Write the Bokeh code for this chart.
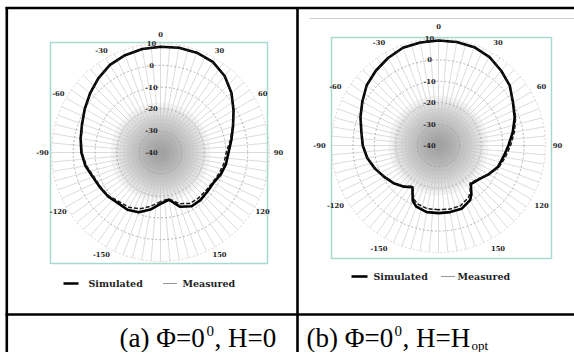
import numpy as np
from bokeh.plotting import figure
from bokeh.models import Range1d
from bokeh.embed import file_html
from bokeh.resources import INLINE
from bokeh.core.properties import value

# ---------------- data (dB vs angle in degrees) ----------------
ANG_A = [-180, -170, -160, -150, -140, -130, -120, -110, -100, -90, -80, -70, -60, -50, -40, -30,
         -20, -10, 0, 10, 20, 30, 40, 50, 60, 70, 80, 90, 100, 110, 120, 130, 140, 150, 160, 170, 180]
SIM_A = [-16.4, -13.4, -10.8, -9.7, -9.7, -8.6, -8.0, -7.0, -5.0, -3.7, -2.8, -1.7, 0.1, 2.2, 4.4, 6.4,
         7.5, 8.2, 8.5, 8.8, 8.7, 8.0, 5.8, 2.5, -1.3, -4.6, -7.0, -8.8, -9.5, -10.6, -12.0, -12.0, -11.5, -11.5, -13.5, -18.0, -16.4]
MEAS_A = [-17.5, -15.0, -12.5, -11.0, -10.5, -9.0, -8.3, -7.5, -5.5, -4.0, -3.0, -1.9, 0.0, 2.0, 4.3, 6.3,
          7.4, 8.1, 8.4, 8.7, 8.6, 7.9, 5.7, 2.4, -1.4, -4.8, -7.5, -9.8, -10.5, -11.5, -12.5, -12.8, -12.8, -13.0, -15.0, -18.5, -17.5]

ANG_B = [-180, -170, -160, -155, -148, -140, -130, -120, -110, -100, -90, -80, -70, -60, -50, -40, -30, -20, -10,
         0, 10, 20, 30, 40, 50, 60, 70, 80, 90, 100, 110, 120, 130, 140, 146, 150, 160, 170, 180]
SIM_B = [-8.4, -8.4, -9.6, -11.5, -17.0, -14.9, -12.6, -10.7, -8.4, -6.2, -4.6, -3.4, -1.2, 1.1, 3.8, 5.6, 7.2, 8.6, 8.9,
         9.1, 9.1, 8.9, 7.7, 5.6, 3.5, 0.2, -2.1, -4.8, -7.3, -9.2, -10.5, -13.0, -15.4, -16.5, -12.5, -10.5, -8.5, -8.4, -8.4]
MEAS_B = [-10.0, -10.0, -11.0, -12.5, -17.5, -15.2, -12.8, -10.9, -8.6, -6.3, -4.7, -3.5, -1.3, 1.0, 3.7, 5.5, 7.1, 8.5, 8.8,
          9.0, 9.0, 8.8, 7.6, 5.5, 3.4, 0.3, -1.6, -4.0, -6.3, -8.3, -10.0, -13.2, -15.8, -17.0, -13.5, -12.0, -10.0, -9.8, -10.0]

R_MIN, R_MAX = -40, 10
RING_DB = [-30, -20, -10, 0, 10]
RADIAL_TICKS = [10, 0, -10, -20, -30, -40]
ANGLE_TICKS = [0, 30, 60, 90, 120, 150, -30, -60, -90, -120, -150]
SERIES = ["Simulated", "Measured"]
CAP_A = ["(a) \u03a6=0", "0", ", H=0"]
CAP_B = ["(b) \u03a6=0", "0", ", H=H", "opt"]

# ---------------- figure (data coordinates = page pixels) ----------------
p = figure(width=574, height=352, x_range=Range1d(0, 574), y_range=Range1d(352, 0),
           output_backend="svg", toolbar_location=None, min_border=0,
           x_axis_type=None, y_axis_type=None)
p.grid.visible = False
p.outline_line_color = None
p.background_fill_color = "white"
p.border_fill_color = "white"

TICK_FONT = value("DejaVu Serif")


def polar_panel(cx, cy, k, ang, sim, meas, box, lab_r, leg_y, leg_x):
    def xy(db, th):
        r = (np.asarray(db, float) - R_MIN) * k
        t = np.radians(np.asarray(th, float))
        return cx + r * np.sin(t), cy - r * np.cos(t)

    # grey gradient blob at the centre
    for rr in np.arange(50, 2, -4):
        p.circle([cx], [cy], radius=rr, fill_color="#6e6e6e", fill_alpha=0.075, line_color=None)

    # spokes every 5 degrees
    sp = np.arange(0, 360, 5)
    x0, y0 = xy(np.full(sp.shape, RING_DB[0]), sp)
    x1, y1 = xy(np.full(sp.shape, R_MAX), sp)
    p.segment(x0, y0, x1, y1, line_color="#c4c4c4", line_width=0.6)

    # rings
    for d in RING_DB:
        p.circle([cx], [cy], radius=(d - R_MIN) * k, fill_color=None,
                 line_color="#e2c4c4" if d == R_MAX else "#a0a0a0",
                 line_dash="2 2", line_width=0.8)

    # frame box
    p.quad(left=box[0], right=box[1], top=box[2], bottom=box[3], fill_color=None,
           line_color="#a6d9cf", line_width=1.5)

    # radial tick labels
    rt = np.array(RADIAL_TICKS, float)
    p.text(x=[cx - 9] * len(rt), y=list(cy - (rt - R_MIN) * k), text=[str(int(v)) for v in rt],
           text_font=TICK_FONT, text_font_style="bold", text_font_size="6.8px",
           text_align="center", text_baseline="middle", text_color="#1e1e1e")

    # angular tick labels
    at = np.radians(np.array(ANGLE_TICKS, float))
    p.text(x=list(cx + lab_r * np.sin(at)), y=list(cy - lab_r * np.cos(at)),
           text=[str(a) for a in ANGLE_TICKS],
           text_font=TICK_FONT, text_font_style="bold", text_font_size="6.8px",
           text_align="center", text_baseline="middle", text_color="#1e1e1e")

    # curves
    xs, ys = xy(sim, ang)
    p.line(xs, ys, line_color="black", line_width=2.6, line_join="round")
    xm, ym = xy(meas, ang)
    p.line(xm, ym, line_color="#1a1a1a", line_width=1.5, line_dash="4 2")

    # legend
    p.line([leg_x[0], leg_x[1]], [leg_y, leg_y], line_color="black", line_width=2.6)
    p.line([leg_x[3], leg_x[4]], [leg_y, leg_y], line_color="#333333", line_width=1.2, line_dash="1 1")
    p.text(x=[leg_x[2], leg_x[5]], y=[leg_y, leg_y], text=SERIES,
           text_font=TICK_FONT, text_font_style="bold", text_font_size="9.5px",
           text_align="left", text_baseline="middle", text_color="#1e1e1e")


polar_panel(160, 152, 2.18, ANG_A, SIM_A, MEAS_A, (50, 267, 42, 263), 118, 283,
            (63, 78, 88, 163, 177, 182))
polar_panel(438, 145, 2.14, ANG_B, SIM_B, MEAS_B, (331, 551, 37, 258), 119, 276,
            (351, 367, 373, 441, 454, 457))

# light grey rule above the right panel
p.line([309, 574], [18, 18], line_color="#d0d0d0", line_width=1)

# table lines
p.line([5, 574], [7.5, 7.5], line_color="black", line_width=2.6)
p.line([6.3, 6.3], [6.5, 352], line_color="black", line_width=2.6)
p.line([297, 297], [6.5, 352], line_color="black", line_width=2.6)
p.line([5, 574], [314, 314], line_color="black", line_width=2.6)

# captions
CF = value("Liberation Serif")


def cap(x, y, t, size):
    p.text(x=[x], y=[y], text=[t], text_font=CF, text_font_size=size,
           text_align="left", text_baseline="middle", text_color="black")


cap(119, 337, CAP_A[0], "27px")
cap(206, 330, CAP_A[1], "15px")
cap(214, 337, CAP_A[2], "27px")

cap(306, 337, CAP_B[0], "27px")
cap(394, 330, CAP_B[1], "15px")
cap(402, 337, CAP_B[2], "27px")
cap(471, 345, CAP_B[3], "13px")

open("out.html", "w").write(file_html(p, INLINE))
